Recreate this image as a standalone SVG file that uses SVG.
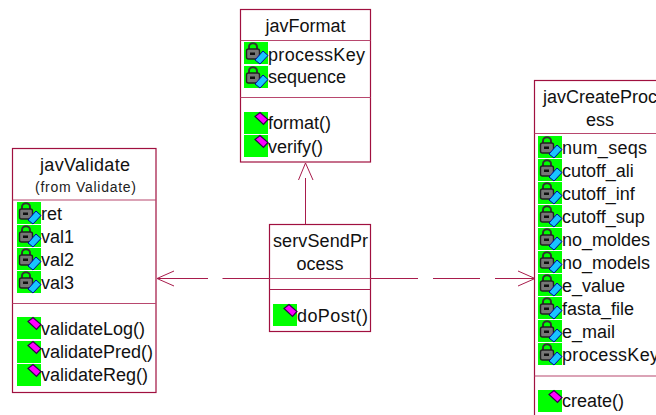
<svg xmlns="http://www.w3.org/2000/svg" width="656" height="415" viewBox="0 0 656 415">
<style>
text{font-family:"Liberation Sans",Arial,sans-serif;font-size:18px;fill:#111}
.c{text-anchor:middle}
.s{font-size:14px;fill:#222}
.b{fill:#fff;stroke:#a0103f;stroke-width:1.2}
.d{stroke:#b8486e;stroke-width:1.2;fill:none}
.l{stroke:#a81c4c;stroke-width:1;fill:none}
</style>
<defs>
<g id="attr">
<rect width="24" height="22" fill="#00ff00"/>
<path d="M5 8V5a4 3.800 0 0 1 8 0v3" fill="none" stroke="#333" stroke-width="2"/>
<rect x="2.500" y="7" width="13" height="10" rx="2" fill="#777" stroke="#222" stroke-width="1.400"/>
<rect x="6" y="10.500" width="5" height="2.500" fill="#111"/>
<path d="M11 18L19 9l5 4.500L16 22z" fill="#19c4ff" stroke="#0000a0"/>
</g>
<g id="oper">
<rect width="24" height="22" fill="#00ff00"/>
<path d="M11 4.500L16 0.500l8 7-4.500 5z" fill="#ff00ff" stroke="#30004a" stroke-width="1.200"/>
</g>
</defs>
<g id="connectors">
<path class="l" d="M305.500 224V178M298.500 180l7-17 7.500 17"/>
<path class="l" d="M269 278.500H222.500M208 278.500H157M174 271l-17 7.500 17 7.500"/>
<path class="l" d="M371 278.500H418M433 278.500H480M495 278.500H534M518 271l17 7.500-17 7.500"/>
</g>
<g id="javFormat">
<rect class="b" x="240.500" y="9.500" width="130" height="152.500"/>
<path class="d" d="M240.500 40.500H370.500M240.500 97.500H370.500"/>
<text class="c" x="305.500" y="32">javFormat</text>
<use href="#attr" x="244" y="42"/><text x="268" y="61" textLength="97">processKey</text>
<use href="#attr" x="244" y="66"/><text x="268" y="83">sequence</text>
<use href="#oper" x="244" y="112"/><text x="268" y="129">format()</text>
<use href="#oper" x="244" y="135"/><text x="268" y="152.500">verify()</text>
</g>
<g id="javValidate">
<rect class="b" x="12.500" y="148.500" width="143.500" height="244"/>
<path class="d" d="M12.500 200H156M12.500 303.500H156"/>
<text class="c" x="85" y="171" textLength="90">javValidate</text>
<text class="c s" x="85.500" y="192" textLength="101">(from Validate)</text>
<use href="#attr" x="17" y="202"/><text x="41" y="220">ret</text>
<use href="#attr" x="17" y="225"/><text x="41" y="243">val1</text>
<use href="#attr" x="17" y="248"/><text x="41" y="266">val2</text>
<use href="#attr" x="17" y="271"/><text x="41" y="289">val3</text>
<use href="#oper" x="17" y="317"/><text x="41" y="335">validateLog()</text>
<use href="#oper" x="17" y="341"/><text x="41" y="358">validatePred()</text>
<use href="#oper" x="17" y="364"/><text x="41" y="381">validateReg()</text>
</g>
<g id="servSendProcess">
<rect class="b" x="269.500" y="224.500" width="101" height="107"/>
<path class="d" d="M269.500 278.500H370.500"/><path class="l" d="M269.500 289.500H370.500"/>
<text class="c" x="320.500" y="246.500" textLength="95">servSendPr</text>
<text class="c" x="320" y="269.500">ocess</text>
<use href="#oper" x="273" y="304"/><text x="297" y="322" textLength="71">doPost()</text>
</g>
<g id="javCreateProcess">
<rect class="b" x="534.500" y="80.500" width="140" height="350"/>
<path class="d" d="M534.500 133.500H656M534.500 376H656"/>
<text class="c" x="600" y="103">javCreateProc</text>
<text class="c" x="600" y="126">ess</text>
<use href="#attr" x="538" y="136"/><text x="562" y="154" textLength="85">num_seqs</text>
<use href="#attr" x="538" y="159"/><text x="562" y="177">cutoff_ali</text>
<use href="#attr" x="538" y="182"/><text x="562" y="200">cutoff_inf</text>
<use href="#attr" x="538" y="205"/><text x="562" y="223">cutoff_sup</text>
<use href="#attr" x="538" y="228"/><text x="562" y="246">no_moldes</text>
<use href="#attr" x="538" y="251"/><text x="562" y="269">no_models</text>
<use href="#attr" x="538" y="274"/><text x="562" y="292">e_value</text>
<use href="#attr" x="538" y="297"/><text x="562" y="315">fasta_file</text>
<use href="#attr" x="538" y="320"/><text x="562" y="338">e_mail</text>
<use href="#attr" x="538" y="343"/><text x="562" y="361" textLength="97">processKey</text>
<use href="#oper" x="538" y="390"/><text x="562" y="407">create()</text>
</g>
</svg>
